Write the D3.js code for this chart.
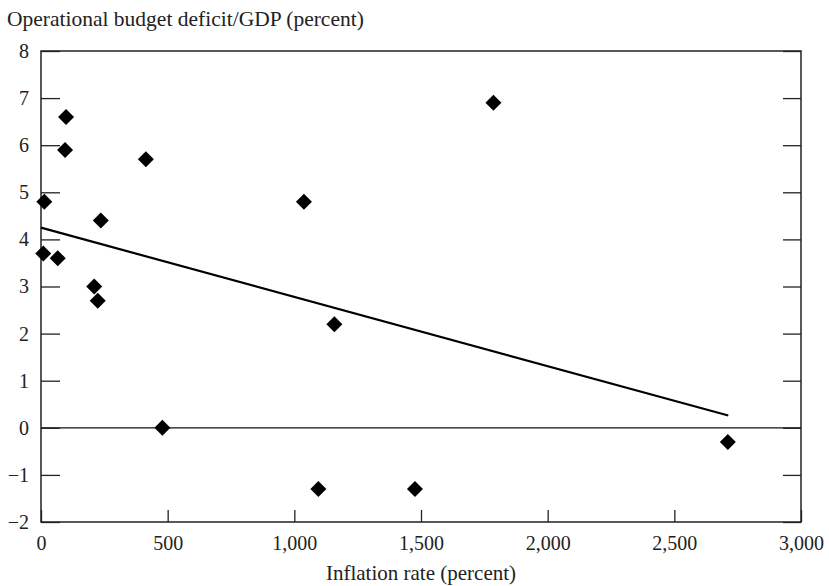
<!DOCTYPE html>
<html>
<head>
<meta charset="utf-8">
<script src="https://cdn.jsdelivr.net/npm/d3@7"></script>
<style>
  body { margin: 0; background: #fff; }
  text { font-family: "Liberation Serif", "Times New Roman", serif; fill: #222; }
  .axis path { display: none; }
  .axis line { stroke: #222; stroke-width: 1.3; }
</style>
</head>
<body>
<div id="chart"></div>
<script>
// inflation rate (percent) and operational deficit/GDP (percent)
var inflation = [9, 13, 66, 95, 99, 210, 224, 236, 414, 479, 1038, 1095, 1158, 1476, 1786, 2711];
var deficit   = [3.7, 4.8, 3.6, 5.9, 6.6, 3.0, 2.7, 4.4, 5.7, 0.0, 4.8, -1.3, 2.2, -1.3, 6.9, -0.3];

// fitted trend line, start and end
var trendX = [0, 2713];
var trendY = [4.25, 0.26];

var xTicks = [0, 500, 1000, 1500, 2000, 2500, 3000];
var yTicks = [-2, -1, 0, 1, 2, 3, 4, 5, 6, 7, 8];

var margins = { top: 51, right: 28, bottom: 64, left: 41 };
var width = 829 - margins.left - margins.right;
var height = 586 - margins.top - margins.bottom;

var x = d3.scaleLinear().domain([0, 3000]).range([0, width]);
var y = d3.scaleLinear().domain([-2, 8]).range([height, 0]);

var svg = d3.select('#chart').append('svg')
  .attr('width', 829)
  .attr('height', 586);

svg.append('text')
  .attr('x', 7).attr('y', 26)
  .style('font-size', '21.5px')
  .text('Operational budget deficit/GDP (percent)');

var graph = svg.append('g')
  .attr('transform', 'translate(' + margins.left + ',' + margins.top + ')');

// zero line
graph.append('line')
  .attr('x1', 0).attr('x2', width)
  .attr('y1', y(0)).attr('y2', y(0))
  .attr('stroke', '#111').attr('stroke-width', 1.2);

graph.append('g')
  .attr('class', 'axis')
  .call(d3.axisLeft(y).tickValues(yTicks).tickSizeInner(-19).tickSizeOuter(0).tickPadding(12).tickFormat(d3.format('d')))
  .selectAll('text').style('font-size', '20px');

graph.append('g')
  .attr('class', 'axis')
  .attr('transform', 'translate(' + width + ',0)')
  .call(d3.axisRight(y).tickValues(yTicks).tickSizeInner(-18).tickSizeOuter(0).tickFormat(''));

graph.append('g')
  .attr('class', 'axis')
  .attr('transform', 'translate(0,' + height + ')')
  .call(d3.axisBottom(x).tickValues(xTicks).tickSizeInner(-12).tickSizeOuter(0).tickPadding(14).tickFormat(d3.format(',')))
  .selectAll('text').style('font-size', '20px');

// frame
graph.append('rect')
  .attr('width', width).attr('height', height)
  .attr('fill', 'none').attr('stroke', '#222').attr('stroke-width', 1.5);

var line = d3.line()
  .x(function(d, i) { return x(trendX[i]); })
  .y(function(d, i) { return y(trendY[i]); });

graph.append('path')
  .attr('d', line(trendX))
  .attr('fill', 'none').attr('stroke', '#000').attr('stroke-width', 2.2);

var diamond = d3.symbol().type(d3.symbolSquare).size(128);
graph.selectAll('.pt')
  .data(inflation)
  .enter().append('path')
  .attr('class', 'pt')
  .attr('d', diamond)
  .attr('transform', function(d, i) { return 'translate(' + x(d) + ',' + y(deficit[i]) + ') rotate(45)'; })
  .attr('fill', '#000');

svg.append('text')
  .attr('x', 421).attr('y', 580)
  .attr('text-anchor', 'middle')
  .style('font-size', '21px')
  .text('Inflation rate (percent)');
</script>
</body>
</html>
